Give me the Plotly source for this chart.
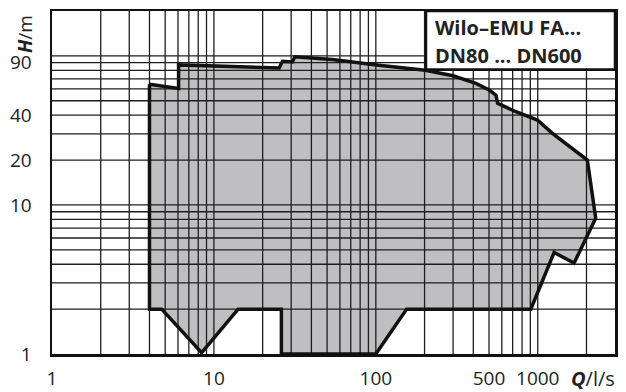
import numpy as np
import plotly.graph_objects as go

# Operating envelope (Q in l/s, H in m)
env_q = [4.0, 6.05, 6.05, 25.3, 26.5, 30.5, 31.6, 41, 54, 101, 202, 300, 415, 501, 552, 565,
         733, 996, 1227, 2024, 2280, 1676, 1262, 906, 155, 100, 26.1, 26.1, 14.1, 8.4, 4.76, 4.0, 4.0]
env_h = [64.5, 60.5, 87, 83, 92, 91, 98.5, 96.5, 94.6, 86.7, 80, 73.5, 65.3, 59, 54.5, 48,
         42.2, 37.1, 30.3, 20, 8.15, 4.07, 4.8, 2.0, 2.0, 1.0, 1.0, 2.0, 2.0, 1.02, 2.0, 2.0, 64.5]

x_tickvals = [1, 10, 100, 500, 1000]
x_ticktext = ["1", "10", "100", "500", "1000"]
y_tickvals = [1, 10, 20, 40, 90]
y_ticktext = ["1", "10", "20", "40", "90"]

grid_q = [2, 3, 4, 5, 6, 7, 8, 9, 10, 20, 30, 40, 50, 60, 70, 80, 90, 100,
          200, 300, 400, 500, 600, 700, 800, 900, 1000, 2000]
grid_h = [2, 3, 4, 5, 6, 7, 8, 9, 10, 20, 30, 40, 50, 60, 70, 80, 90, 100]

Q_MIN, Q_MAX = 1, 3000
H_MIN, H_MAX = 1, 200

gx, gy = [], []
for q in grid_q:
    gx += [q, q, None]
    gy += [H_MIN, H_MAX, None]
for h in grid_h:
    gx += [Q_MIN, Q_MAX, None]
    gy += [h, h, None]

FONT = "Open Sans"
fig = go.Figure()
fig.add_trace(go.Scatter(x=env_q, y=env_h, mode="lines", fill="toself",
                         fillcolor="#bfbfc1", line=dict(width=0), hoverinfo="skip"))
fig.add_trace(go.Scatter(x=gx, y=gy, mode="lines", line=dict(color="#1e1e1e", width=1.3),
                         hoverinfo="skip"))
fig.add_trace(go.Scatter(x=env_q, y=env_h, mode="lines", line=dict(color="#111", width=3.5),
                         hoverinfo="skip"))

fig.update_xaxes(type="log", range=[np.log10(Q_MIN), np.log10(Q_MAX)], automargin=False,
                 tickmode="array", tickvals=x_tickvals, ticktext=x_ticktext,
                 showgrid=False, zeroline=False, showline=True, mirror=True,
                 linecolor="#111", linewidth=2.5, ticks="",
                 tickfont=dict(family=FONT, size=19, color="#222"), ticklabelstandoff=6)
fig.update_yaxes(type="log", range=[np.log10(H_MIN), np.log10(H_MAX)], automargin=False,
                 tickmode="array", tickvals=y_tickvals, ticktext=y_ticktext,
                 showgrid=False, zeroline=False, showline=True, mirror=True,
                 linecolor="#111", linewidth=2.5, ticks="",
                 tickfont=dict(family=FONT, size=19, color="#222"), ticklabelstandoff=14)

L, R, T, B = 52, 11, 11, 38
W, H = 626, 392
pw, ph = W - L - R, H - T - B

def px(x):
    return (x - L) / pw

def py(y):
    return (H - B - y) / ph

fig.add_shape(type="rect", xref="paper", yref="paper", x0=px(426), x1=1, y0=py(69.5), y1=1,
              fillcolor="white", line=dict(color="#111", width=2.5), layer="above")

fig.add_annotation(xref="paper", yref="paper", x=px(433), y=py(27), xanchor="left", yanchor="middle",
                   text="<b>Wilo–EMU FA...</b>", showarrow=False,
                   font=dict(family=FONT, size=20, color="#222"))
fig.add_annotation(xref="paper", yref="paper", x=px(433), y=py(55), xanchor="left", yanchor="middle",
                   text="<b>DN80 ... DN600</b>", showarrow=False,
                   font=dict(family=FONT, size=20, color="#222"))
fig.add_annotation(xref="paper", yref="paper", x=px(617), y=py(378), xanchor="right", yanchor="middle",
                   text="<b><i>Q</i></b>/l/s", showarrow=False,
                   font=dict(family=FONT, size=20, color="#222"))
fig.add_annotation(xref="paper", yref="paper", x=px(25), y=py(34), xanchor="center", yanchor="middle",
                   text="<b><i>H</i></b>/m", textangle=-90, showarrow=False,
                   font=dict(family=FONT, size=19, color="#222"))

fig.update_layout(width=W, height=H, margin=dict(l=L, r=R, t=T, b=B),
                  paper_bgcolor="white", plot_bgcolor="white", showlegend=False)

fig.write_html("out.html", config={"displayModeBar": False, "staticPlot": True},
               post_script="document.body.style.margin='0';document.body.style.overflow='hidden';")
